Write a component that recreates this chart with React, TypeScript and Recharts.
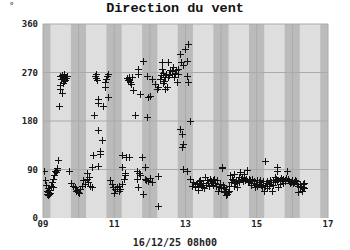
import {
  ScatterChart,
  Scatter,
  XAxis,
  YAxis,
  ReferenceArea,
  ReferenceLine,
} from 'recharts'

// [day, direction in degrees]
const obs09 = [
  [9.03, 88], [9.06, 71], [9.08, 62], [9.1, 50], [9.12, 45], [9.13, 42], [9.14, 48],
  [9.15, 55], [9.17, 44], [9.18, 52], [9.2, 47], [9.22, 60], [9.25, 66], [9.27, 58],
  [9.29, 73], [9.31, 80], [9.34, 88], [9.36, 85], [9.38, 92], [9.4, 90], [9.43, 108],
  [9.45, 207], [9.47, 246], [9.48, 240], [9.48, 264], [9.5, 258], [9.52, 232], [9.53, 266],
  [9.55, 250], [9.57, 262], [9.58, 254], [9.6, 268], [9.62, 256], [9.64, 260], [9.67, 264],
  [9.74, 88], [9.78, 65], [9.85, 60], [9.9, 57], [9.93, 50], [9.95, 52], [9.99, 48],
]
const obs10 = [
  [10.02, 46], [10.04, 54], [10.09, 60], [10.13, 70], [10.18, 63], [10.23, 73], [10.23, 83],
  [10.27, 66], [10.3, 76], [10.32, 60], [10.37, 58], [10.37, 94], [10.41, 116], [10.43, 192],
  [10.46, 263], [10.48, 268], [10.5, 260], [10.51, 256], [10.53, 221], [10.55, 97], [10.55, 164],
  [10.55, 213], [10.6, 119], [10.6, 125], [10.65, 144], [10.68, 207], [10.74, 244], [10.74, 252],
  [10.77, 258], [10.79, 264], [10.83, 225], [10.83, 268], [10.88, 70], [10.93, 63], [10.97, 58],
  [10.99, 46],
]
const obs11 = [
  [11.02, 54], [11.07, 57], [11.12, 50], [11.14, 60], [11.16, 54], [11.21, 63], [11.21, 94],
  [11.21, 116], [11.26, 73], [11.3, 79], [11.3, 83], [11.33, 113], [11.36, 260], [11.38, 256],
  [11.4, 258], [11.4, 113], [11.42, 262], [11.44, 252], [11.46, 248], [11.49, 261], [11.54, 237],
  [11.58, 192], [11.63, 73], [11.63, 88], [11.68, 57], [11.68, 268], [11.68, 277], [11.7, 84],
  [11.72, 79], [11.72, 230], [11.77, 113], [11.82, 45], [11.82, 292], [11.87, 73], [11.87, 94],
  [11.9, 70], [11.91, 188], [11.91, 264], [11.96, 68], [11.96, 224],
]
const obs12 = [
  [12.0, 74], [12.0, 227], [12.05, 66], [12.05, 258], [12.15, 249], [12.19, 240], [12.24, 23],
  [12.24, 78], [12.24, 243], [12.28, 258], [12.3, 266], [12.33, 277], [12.33, 289], [12.36, 250],
  [12.38, 270], [12.4, 255], [12.43, 240], [12.43, 261], [12.45, 268], [12.47, 243], [12.5, 262],
  [12.52, 289], [12.55, 265], [12.57, 274], [12.61, 267], [12.62, 272], [12.66, 280], [12.68, 262],
  [12.71, 270], [12.73, 275], [12.75, 252], [12.78, 268], [12.8, 277], [12.85, 165], [12.85, 305],
  [12.88, 290], [12.9, 131], [12.9, 156], [12.94, 91], [12.94, 138], [12.94, 283], [12.99, 314],
]
const obs13 = [
  [13.04, 87], [13.04, 264], [13.04, 292], [13.08, 252], [13.08, 323], [13.13, 73], [13.13, 180],
  [13.17, 60], [13.22, 66], [13.27, 58], [13.31, 63], [13.32, 65], [13.34, 52], [13.36, 60],
  [13.39, 68], [13.41, 70], [13.44, 62], [13.46, 57], [13.5, 65], [13.52, 55], [13.55, 76],
  [13.58, 62], [13.6, 70], [13.64, 65], [13.66, 60], [13.69, 73], [13.71, 68], [13.74, 65],
  [13.76, 62], [13.78, 70], [13.81, 72], [13.83, 65], [13.86, 60], [13.88, 71], [13.92, 51],
  [13.95, 58], [13.97, 64], [13.99, 55],
]
const obs14 = [
  [14.02, 95], [14.02, 93], [14.04, 62], [14.07, 57], [14.09, 48], [14.11, 51], [14.13, 54],
  [14.14, 42], [14.16, 45], [14.18, 48], [14.21, 51], [14.23, 60], [14.25, 79], [14.28, 66],
  [14.3, 73], [14.33, 70], [14.35, 82], [14.37, 60], [14.39, 65], [14.42, 68], [14.44, 57],
  [14.47, 70], [14.49, 76], [14.51, 66], [14.53, 85], [14.56, 72], [14.58, 76], [14.6, 68],
  [14.63, 82], [14.65, 75], [14.67, 70], [14.7, 72], [14.72, 89], [14.75, 66], [14.77, 73],
  [14.79, 68], [14.81, 70], [14.84, 62], [14.86, 73], [14.88, 70], [14.91, 65], [14.93, 68],
  [14.95, 57], [14.98, 64],
]
const obs15 = [
  [15.0, 70], [15.02, 60], [15.05, 64], [15.07, 66], [15.1, 70], [15.12, 62], [15.14, 57],
  [15.17, 68], [15.19, 51], [15.22, 60], [15.24, 105], [15.25, 65], [15.28, 56], [15.3, 68],
  [15.33, 63], [15.35, 60], [15.38, 70], [15.4, 66], [15.42, 51], [15.45, 62], [15.47, 70],
  [15.5, 66], [15.52, 76], [15.54, 72], [15.56, 94], [15.56, 88], [15.58, 68], [15.61, 57],
  [15.64, 64], [15.66, 71], [15.68, 74], [15.7, 70], [15.73, 72], [15.75, 65], [15.78, 68],
  [15.8, 71], [15.82, 74], [15.84, 87], [15.87, 72], [15.89, 70], [15.91, 68], [15.94, 65],
  [15.96, 66], [15.98, 70],
]
const obs16 = [
  [16.0, 68], [16.03, 65], [16.05, 66], [16.08, 70], [16.1, 68], [16.12, 64], [16.15, 60],
  [16.17, 48], [16.2, 58], [16.22, 63], [16.25, 60], [16.27, 51], [16.29, 64], [16.31, 57],
  [16.33, 55], [16.34, 65],
]

const days = [9, 10, 11, 12, 13, 14, 15, 16, 17]
const dayTicks = [9, 11, 13, 15, 17]
const dirTicks = [0, 90, 180, 270, 360]
const duskHour = 18.8
const dawnHour = 5

const title = 'Direction du vent'
const unitLabel = '°'
const runLabel = '16/12/25 08h00'

const points = [...obs09, ...obs10, ...obs11, ...obs12, ...obs13, ...obs14, ...obs15, ...obs16].map(
  ([t, dir]) => ({ t, dir })
)

const first = days[0]
const last = days[days.length - 1]

const nights = days.map((d) => ({
  from: Math.max(first, d - (24 - duskHour) / 24),
  to: Math.min(last, d + dawnHour / 24),
}))

const mono = '"DejaVu Sans Mono", monospace'

function Cross(props: any) {
  const { cx, cy } = props
  if (cx == null || cy == null) return null
  const x = Math.round(cx) + 0.5
  const y = Math.round(cy) + 0.5
  return (
    <path
      d={`M${x - 3.5},${y}H${x + 3.5}M${x},${y - 3.5}V${y + 3.5}`}
      stroke="#111"
      strokeWidth={1}
      fill="none"
    />
  )
}

export default function App() {
  return (
    <div style={{ position: 'absolute', left: 0, top: 0, width: 350, height: 250, background: '#fff' }}>
      <div
        style={{
          position: 'absolute',
          left: 0,
          top: 1,
          width: 350,
          textAlign: 'center',
          fontFamily: '"Liberation Mono", monospace',
          fontWeight: 'bold',
          fontSize: 13.5,
          lineHeight: '16px',
          color: '#111',
        }}
      >
        {title}
      </div>
      <div
        style={{
          position: 'absolute',
          left: 9,
          top: 0,
          fontFamily: mono,
          fontSize: 9,
          lineHeight: '12px',
          color: '#333',
        }}
      >
        {unitLabel}
      </div>
      <div
        style={{
          position: 'absolute',
          left: 0,
          top: 236,
          width: 350,
          textAlign: 'center',
          fontFamily: mono,
          fontWeight: 'bold',
          fontSize: 10,
          lineHeight: '14px',
          color: '#222',
        }}
      >
        {runLabel}
      </div>
      <ScatterChart
        width={350}
        height={250}
        margin={{ top: 24, right: 22, bottom: 0, left: 0 }}
        style={{ position: 'absolute', left: 0, top: 0 }}
      >
        <XAxis
          type="number"
          dataKey="t"
          domain={[first, last]}
          ticks={dayTicks}
          tickFormatter={(v) => String(v).padStart(2, '0')}
          axisLine={false}
          tickLine={false}
          tickSize={3}
          tickMargin={0}
          height={32}
          allowDataOverflow
          tick={{ fontFamily: mono, fontWeight: 'bold', fontSize: 9, fill: '#222' }}
        />
        <YAxis
          type="number"
          dataKey="dir"
          domain={[0, 360]}
          ticks={dirTicks}
          axisLine={false}
          tickLine={false}
          tickSize={5}
          tickMargin={0}
          width={43}
          tick={{ fontFamily: mono, fontWeight: 'bold', fontSize: 9, fill: '#222' }}
        />
        <ReferenceArea x1={first} x2={last} y1={0} y2={360} fill="#dedede" fillOpacity={1} stroke="none" />
        {nights.map((n, i) => (
          <ReferenceArea key={'n' + i} x1={n.from} x2={n.to} y1={0} y2={360} fill="#bbbbbb" fillOpacity={1} stroke="none" />
        ))}
        {days.map((d) => (
          <ReferenceLine key={'d' + d} x={d} stroke="#aaaaaa" strokeWidth={1} />
        ))}
        {dirTicks.slice(1).map((v) => (
          <ReferenceLine key={'h' + v} y={v} stroke="#aaaaaa" strokeWidth={1} />
        ))}
        <Scatter data={points} shape={<Cross />} isAnimationActive={false} />
      </ScatterChart>
    </div>
  )
}
